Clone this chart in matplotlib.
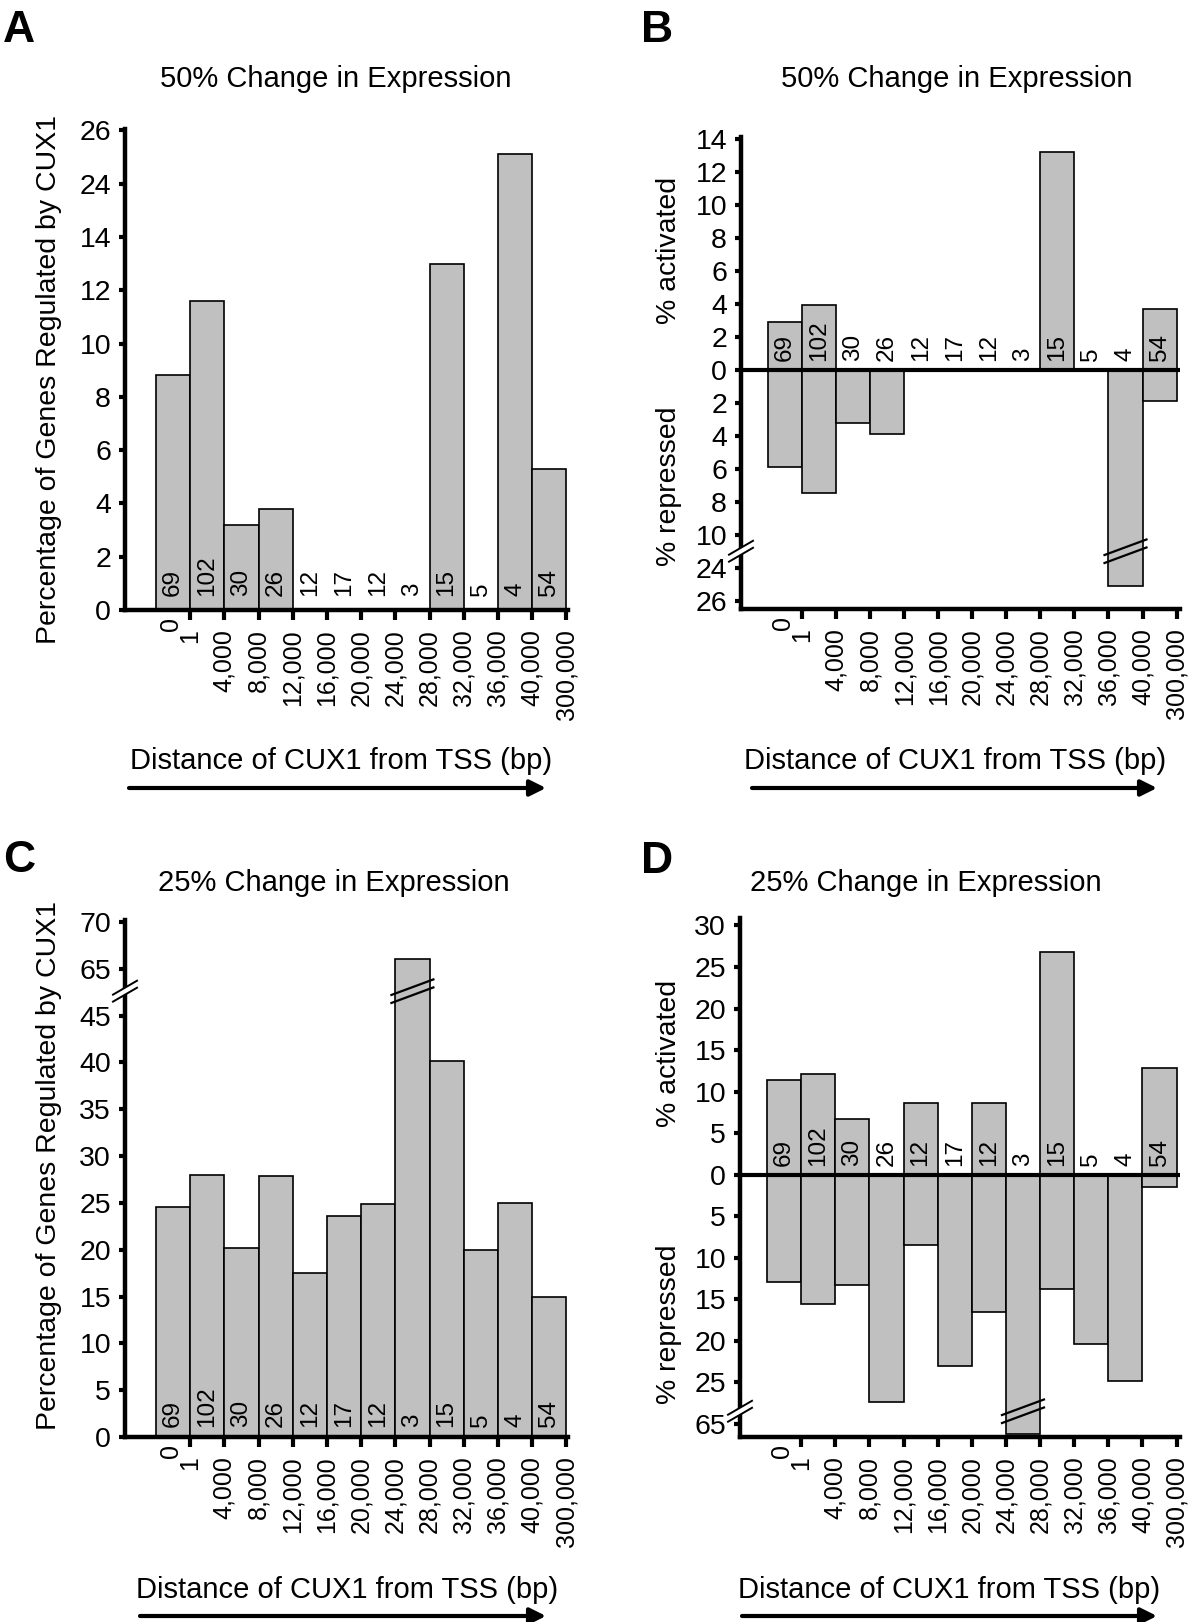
import numpy as np
import matplotlib
matplotlib.use('Agg')
import matplotlib.pyplot as plt
import matplotlib.transforms as mtransforms
from matplotlib.patches import Polygon, FancyArrowPatch
from matplotlib.lines import Line2D

plt.rcParams['font.family'] = ['Liberation Sans', 'DejaVu Sans']

# ---------------- data ----------------
edge_labels = ['0', '1', '4,000', '8,000', '12,000', '16,000', '20,000',
               '24,000', '28,000', '32,000', '36,000', '40,000', '300,000']
gene_counts = [69, 102, 30, 26, 12, 17, 12, 3, 15, 5, 4, 54]

a_regulated = [8.8, 11.6, 3.2, 3.8, 0, 0, 0, 0, 13.0, 0, 25.1, 5.3]
b_activated = [2.9, 3.9, 0, 0, 0, 0, 0, 0, 13.2, 0, 0, 3.7]
b_repressed = [5.9, 7.5, 3.2, 3.9, 0, 0, 0, 0, 0, 0, 25.1, 1.9]
c_regulated = [24.6, 28.0, 20.2, 27.9, 17.5, 23.6, 24.9, 66.0, 40.1, 20.0, 25.0, 14.9]
d_activated = [11.4, 12.1, 6.7, 0, 8.6, 0, 8.6, 0, 26.8, 0, 0, 12.8]
d_repressed = [12.9, 15.6, 13.3, 27.4, 8.5, 23.0, 16.5, 66.2, 13.8, 20.4, 24.8, 1.5]

a_yticks = [0, 2, 4, 6, 8, 10, 12, 14, 24, 26]
b_yticks = [14, 12, 10, 8, 6, 4, 2, 0, -2, -4, -6, -8, -10, -24, -26]
c_yticks = [0, 5, 10, 15, 20, 25, 30, 35, 40, 45, 65, 70]
d_yticks = [30, 25, 20, 15, 10, 5, 0, -5, -10, -15, -20, -25, -65]

title_50 = '50% Change in Expression'
title_25 = '25% Change in Expression'
xlabel_txt = 'Distance of CUX1 from TSS (bp)'
ylabel_total = 'Percentage of Genes Regulated by CUX1'

# ---------------- figure ----------------
W, H = 1200, 1622
DPI = 100
fig = plt.figure(figsize=(W / DPI, H / DPI), dpi=DPI)
fig.patch.set_facecolor('white')

BAR_COLOR = '#c0c0c0'
YTICK_FS = 20.5
XTICK_FS = 18
COUNT_FS = 17.5
LABEL_FS = 20.5


def fx(x):
    return x / W


def fy(y):
    return 1 - y / H


def make_axes(left, top, right, bottom):
    return fig.add_axes([fx(left), fy(bottom), (right - left) / W, (bottom - top) / H])


def piecewise(data_pts, disp_pts):
    d = np.asarray(data_pts, float)
    s = np.asarray(disp_pts, float)

    def fwd(v):
        return np.interp(v, d, s)

    def inv(v):
        return np.interp(v, s, d)
    return fwd, inv


def style_axes(ax, xlim):
    ax.set_xlim(*xlim)
    for side in ('top', 'right'):
        ax.spines[side].set_visible(False)
    for side in ('left', 'bottom'):
        ax.spines[side].set_linewidth(3.2)
    ax.set_xticks(np.arange(1, 13))
    ax.set_xticklabels(edge_labels[1:], rotation=90)
    ax.tick_params(axis='x', length=7, width=3, pad=7, labelsize=XTICK_FS)
    ax.tick_params(axis='y', length=4, width=3, pad=6, labelsize=YTICK_FS)
    ax.annotate(edge_labels[0], xy=(0.45, 0), xycoords=('data', 'axes fraction'),
                xytext=(0, -5), textcoords='offset points', rotation=90,
                ha='center', va='top', fontsize=XTICK_FS)


def counts_text(ax, off_pt):
    for i, n in enumerate(gene_counts):
        ax.annotate(str(n), xy=(i + 0.5, 0), xycoords='data',
                    xytext=(0, off_pt), textcoords='offset points',
                    rotation=90, ha='center', va='bottom',
                    fontsize=COUNT_FS, zorder=6)


def anchor_trans(ax, x, y):
    return fig.dpi_scale_trans + mtransforms.ScaledTranslation(x, y, ax.transData)


def axis_break(ax, inv, ydisp):
    y = float(inv(ydisp))
    x0 = ax.get_xlim()[0]
    tr = anchor_trans(ax, x0, y)
    slope = 0.58
    gap = 0.07
    half = 0.12

    def ly(x, off):
        return off + x * slope
    xs = 0.035
    poly = Polygon([(-xs, ly(-xs, gap / 2)), (xs, ly(xs, gap / 2)),
                    (xs, ly(xs, -gap / 2)), (-xs, ly(-xs, -gap / 2))],
                   closed=True, facecolor='white', edgecolor='none',
                   transform=tr, clip_on=False, zorder=7)
    ax.add_patch(poly)
    for off in (gap / 2, -gap / 2):
        ax.add_line(Line2D([-half, half], [ly(-half, off), ly(half, off)],
                           color='black', lw=1.4, transform=tr,
                           clip_on=False, zorder=8))


def bar_break(ax, inv, idx, ydisp):
    y = float(inv(ydisp))
    tr = anchor_trans(ax, idx + 0.5, y)
    slope = 0.37
    gap = 0.08
    half = 0.21
    for off in (gap / 2, -gap / 2):
        ax.add_line(Line2D([-half, half], [off - half * slope, off + half * slope],
                           color='black', lw=1.6, transform=tr,
                           clip_on=False, zorder=8))


x = np.arange(12)

# ---------------- Panel A ----------------
fa, ia = piecewise([-1e4, 14, 24, 1e4], [-1e4, 14, 16, 1e4 - 8])
axA = make_axes(125, 129, 568, 610)
axA.set_yscale('function', functions=(fa, ia))
axA.bar(x, a_regulated, width=1, align='edge', color=BAR_COLOR,
        edgecolor='black', linewidth=1.2, zorder=2)
style_axes(axA, (-0.906, 12.05))
axA.set_ylim(0, float(ia(18.05)))
axA.set_yticks(a_yticks)
axA.set_yticklabels([str(v) for v in a_yticks])
counts_text(axA, 10)

# ---------------- Panel B ----------------
fb, ib = piecewise([-1e4, -24, -10, 1e4], [-1e4 + 12, -12, -10, 1e4])
axB = make_axes(741, 137, 1180, 609)
axB.set_yscale('function', functions=(fb, ib))
axB.bar(x, b_activated, width=1, align='edge', color=BAR_COLOR,
        edgecolor='black', linewidth=1.2, zorder=2)
axB.bar(x, -np.asarray(b_repressed), width=1, align='edge', color=BAR_COLOR,
        edgecolor='black', linewidth=1.2, zorder=2)
style_axes(axB, (-0.79, 12.1))
axB.set_ylim(float(ib(-14.5)), float(ib(14.1)))
axB.set_yticks(b_yticks)
axB.set_yticklabels([str(abs(v)) for v in b_yticks])
axB.axhline(0, color='black', lw=3, zorder=3)
counts_text(axB, 6.5)
axis_break(axB, ib, -11)
bar_break(axB, ib, 10, -11)

# ---------------- Panel C ----------------
fc, ic = piecewise([-1e4, 45, 65, 1e4], [-1e4, 45, 50, 1e4 - 15])
axC = make_axes(125, 920, 568, 1437)
axC.set_yscale('function', functions=(fc, ic))
axC.bar(x, c_regulated, width=1, align='edge', color=BAR_COLOR,
        edgecolor='black', linewidth=1.2, zorder=2)
style_axes(axC, (-0.906, 12.05))
axC.set_ylim(0, float(ic(55.2)))
axC.set_yticks(c_yticks)
axC.set_yticklabels([str(v) for v in c_yticks])
counts_text(axC, 7)
axis_break(axC, ic, 47.6)
bar_break(axC, ic, 7, 47.6)

# ---------------- Panel D ----------------
fd, idd = piecewise([-1e4, -65, -28, 1e4], [-1e4 + 35, -30, -28, 1e4])
axD = make_axes(740, 918, 1180, 1437)
axD.set_yscale('function', functions=(fd, idd))
axD.bar(x, d_activated, width=1, align='edge', color=BAR_COLOR,
        edgecolor='black', linewidth=1.2, zorder=2)
axD.bar(x, -np.asarray(d_repressed), width=1, align='edge', color=BAR_COLOR,
        edgecolor='black', linewidth=1.2, zorder=2)
style_axes(axD, (-0.79, 12.1))
axD.set_ylim(float(idd(-31.6)), float(idd(30.9)))
axD.set_yticks(d_yticks)
axD.set_yticklabels([str(abs(v)) for v in d_yticks])
axD.axhline(0, color='black', lw=3, zorder=3)
counts_text(axD, 6.5)
axis_break(axD, idd, -28.5)
bar_break(axD, idd, 7, -28.5)

# ---------------- text ----------------
for letter, (px, py) in zip('ABCD', [(3, 42), (641, 42), (3, 872), (641, 873)]):
    fig.text(fx(px), fy(py), letter, fontsize=32, fontweight='bold',
             ha='left', va='baseline')

for t, (px, py) in zip([title_50, title_50, title_25, title_25],
                       [(336, 79), (957, 79), (334, 883), (926, 883)]):
    fig.text(fx(px), fy(py), t, fontsize=21, ha='center', va='center')

for (px, py) in [(341, 761), (955, 761), (347, 1590), (949, 1590)]:
    fig.text(fx(px), fy(py), xlabel_txt, fontsize=21, ha='center', va='center')

fig.text(fx(49), fy(380), ylabel_total, fontsize=LABEL_FS, rotation=90,
         ha='center', va='center')
fig.text(fx(49), fy(1166), ylabel_total, fontsize=LABEL_FS, rotation=90,
         ha='center', va='center')
fig.text(fx(669), fy(250), '% activated', fontsize=LABEL_FS, rotation=90,
         ha='center', va='center')
fig.text(fx(669), fy(486), '% repressed', fontsize=LABEL_FS, rotation=90,
         ha='center', va='center')
fig.text(fx(669), fy(1053), '% activated', fontsize=LABEL_FS, rotation=90,
         ha='center', va='center')
fig.text(fx(669), fy(1324), '% repressed', fontsize=LABEL_FS, rotation=90,
         ha='center', va='center')

for (x0, x1, yy) in [(129, 546, 788), (752, 1157, 788), (140, 546, 1616), (742, 1157, 1616)]:
    arr = FancyArrowPatch((fx(x0), fy(yy)), (fx(x1), fy(yy)),
                          transform=fig.transFigure, arrowstyle='-|>',
                          mutation_scale=24, lw=3, color='black',
                          shrinkA=0, shrinkB=0)
    fig.add_artist(arr)

fig.savefig('out.png', dpi=DPI, facecolor='white')
